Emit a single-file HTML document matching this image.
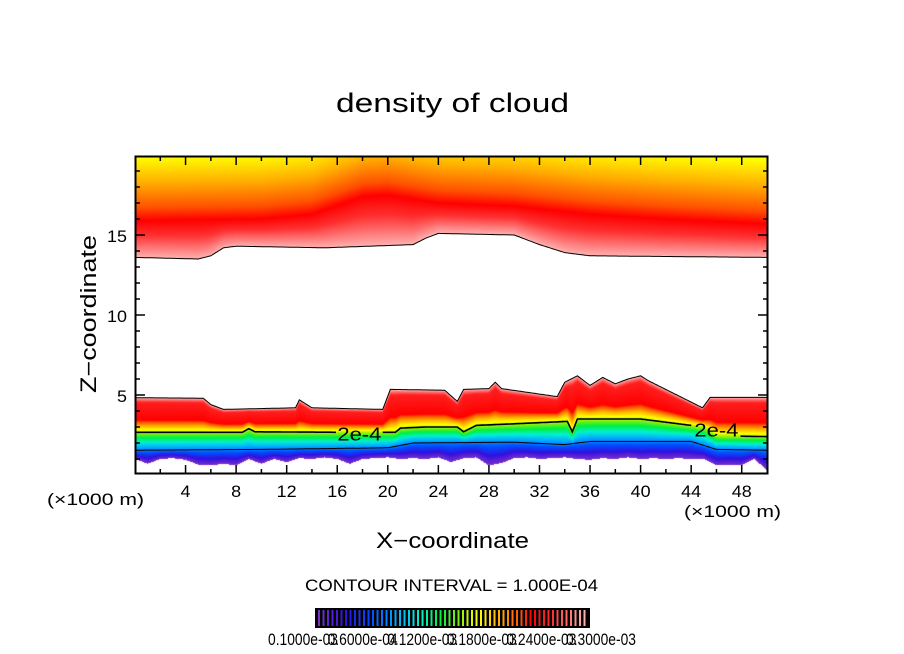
<!DOCTYPE html>
<html><head><meta charset="utf-8"><style>
html,body{margin:0;padding:0;background:#fff;}
#wrap{position:relative;width:904px;height:654px;overflow:hidden;font-family:"Liberation Sans",sans-serif;}
canvas{position:absolute;left:135px;top:156px;}
svg{position:absolute;left:0;top:0;}
</style></head><body>
<div id="wrap">
<canvas id="cv" width="632" height="317"></canvas>
<svg id="sv" width="904" height="654"></svg>
</div>
<script>
// ---- data (km / km-height) ----
const upperX = [0,5,6,7,8,15,22,23,24,30,32,34,36,50];
const upperBase = [13.6,13.5,13.7,14.2,14.3,14.2,14.4,14.8,15.1,15.0,14.4,13.9,13.7,13.6];
const redX = [0,10,14,18,20,24,30,36,42,50];
const redZ = [15.9,16.0,16.3,17.4,17.5,17.0,16.8,16.3,16.0,15.7];
const lowerX = [0,5.4,6,7,12.7,13,14,19.6,20.2,24.5,25.5,26,28,28.5,29,33.4,34,35,36,37,38,39,40,40.6,44.9,45.5,50];
const lowerTop = [4.83,4.8,4.4,4.1,4.2,4.7,4.2,4.1,5.35,5.3,4.6,5.35,5.4,5.8,5.4,4.9,5.8,6.2,5.6,6.1,5.7,6.0,6.2,5.9,4.2,4.85,4.85];
const c2X = [0,8.5,9,9.5,16,20.6,21,23,25.5,26,27,30,34.2,34.6,35,40,45,46,50];
const c2Z = [2.67,2.67,2.9,2.7,2.67,2.67,2.93,3.0,3.0,2.7,3.1,3.2,3.35,2.7,3.5,3.5,3.0,2.45,2.4];
const c1X = [0,10,20,22,30,34,36,44,46,50];
const c1Z = [1.55,1.6,1.7,2.0,2.05,1.9,2.1,2.1,1.6,1.55];
const baseZ = [1.0,0.7,1.0,1.05,0.95,0.65,0.6,0.7,0.6,1.0,0.7,1.0,0.8,1.05,1.0,1.1,1.0,0.7,1.0,1.05,1.1,1.0,1.05,1.0,1.1,0.8,1.05,1.1,0.6,0.75,1.05,1.1,1.0,1.05,1.1,1.0,0.95,1.05,1.0,1.1,1.0,1.05,1.0,1.05,1.0,1.0,0.6,0.65,0.6,1.0,0.3];
const xTicks = [4,8,12,16,20,24,28,32,36,40,44,48];
const yTicks = [5,10,15];
const cbLabels = ["0.1000e-03","0.6000e-04","0.1200e-03","0.1800e-03","0.2400e-03","0.3000e-03"];
const contourLabel = "2e-4";

// ---- axes ----
const X0=135, KX=12.64, Z0=475, KZ=16;
const xs = k => X0 + k*KX;
const zs = z => Z0 - z*KZ;
function interp(xa, ya, x){
  if(x<=xa[0]) return ya[0];
  for(let i=1;i<xa.length;i++){ if(x<=xa[i]){const f=(x-xa[i-1])/(xa[i]-xa[i-1]); return ya[i-1]+f*(ya[i]-ya[i-1]);} }
  return ya[ya.length-1];
}
const stops=[[0,[122,48,200]],[0.1,[48,16,224]],[0.2,[0,80,255]],[0.3,[0,176,255]],[0.38,[0,240,208]],[0.46,[0,240,64]],[0.55,[176,240,0]],[0.6,[255,255,0]],[0.68,[255,176,0]],[0.76,[255,80,0]],[0.8,[255,0,0]],[0.88,[255,48,48]],[1,[255,176,176]]];
function cmap(t){
  t=Math.max(0,Math.min(1,t));
  for(let i=1;i<stops.length;i++){ if(t<=stops[i][0]){const a=stops[i-1],b=stops[i];const f=(t-a[0])/(b[0]-a[0]);return a[1].map((v,j)=>Math.round(v+f*(b[1][j]-v)));} }
  return stops[stops.length-1][1];
}
// ---- field ----
const cv=document.getElementById('cv'),ctx=cv.getContext('2d');
const W=cv.width,H=cv.height,img=ctx.createImageData(W,H);
const baseX=baseZ.map((v,i)=>i);
for(let px=0;px<W;px++){
  const k=(px+0.5)/KX;
  const ub=interp(upperX,upperBase,k), ur=interp(redX,redZ,k);
  const lt=interp(lowerX,lowerTop,k), c2=interp(c2X,c2Z,k), c1=interp(c1X,c1Z,k), lb=interp(baseX,baseZ,k);
  for(let py=0;py<H;py++){
    const z=(Z0-(156+py+0.5))/KZ;
    let col=[255,255,255];
    if(z>=ub){
      let t = z<ur ? 1-0.2*(z-ub)/(ur-ub) : 0.8-0.05*(z-ur);
      col=cmap(t);
    } else if(z<=lt && z>=lb){
      let t;
      if(z<c1) t=0.25*(z-lb)/Math.max(0.05,c1-lb);
      else if(z<c2) t=0.25+0.3*(z-c1)/Math.max(0.05,c2-c1);
      else { const s=(z-c2)/Math.max(0.05,lt-c2);
        t = s<0.35 ? 0.55+0.25*s/0.35 : s<0.85 ? 0.8+0.05*(s-0.35)/0.5 : 0.85+0.15*(s-0.85)/0.15; }
      col=cmap(t);
    }
    const o=(py*W+px)*4; img.data[o]=col[0];img.data[o+1]=col[1];img.data[o+2]=col[2];img.data[o+3]=255;
  }
}
ctx.putImageData(img,0,0);

// ---- svg overlay ----
const NS='http://www.w3.org/2000/svg', sv=document.getElementById('sv');
function el(tag,attrs,txt){const e=document.createElementNS(NS,tag);for(const a in attrs)e.setAttribute(a,attrs[a]);if(txt!==undefined)e.textContent=txt;sv.appendChild(e);return e;}
function curve(xa,za,name,w,gaps){
  let segs=[[]];
  for(let k=0;k<=50.001;k+=0.1){
    const inGap=gaps.some(g=>k>g[0]&&k<g[1]);
    if(inGap){ if(segs[segs.length-1].length) segs.push([]); continue; }
    segs[segs.length-1].push(xs(k).toFixed(1)+','+zs(interp(xa,za,k)).toFixed(1));
  }
  segs.filter(s=>s.length>1).forEach(s=>{
    const p=el('polyline',{points:s.join(' '),fill:'none',stroke:'#000','stroke-width':w});
    
    
  });
}
curve(upperX,upperBase,'upper-cloud-boundary',1,[]);
curve(lowerX,lowerTop,'lower-cloud-top-contour',1,[]);
curve(c1X,c1Z,'contour-1e-4',1,[]);
curve(c2X,c2Z,'contour-2e-4',1.6,[[15.9,19.6],[44.1,47.9]]);
[[17.75,2.6],[46.0,2.85]].forEach(p=>{
  const t=el('text',{x:xs(p[0])-22,y:zs(p[1])+7,'font-size':18,textLength:44,lengthAdjust:'spacingAndGlyphs',fill:'#000'},contourLabel);
  
  
});
// frame
const fr=el('rect',{x:135.5,y:156.5,width:632,height:317,fill:'none',stroke:'#000','stroke-width':2});


// ticks
for(let k=2;k<50;k+=2){
  const L = (k%4===0)?8:4;
  el('line',{x1:xs(k),x2:xs(k),y1:473,y2:473-L,stroke:'#000','stroke-width':1.5});
  el('line',{x1:xs(k),x2:xs(k),y1:157,y2:157+L,stroke:'#000','stroke-width':1.5});
}
for(let z=1;z<20;z++){
  const L=(z%5===0)?9:4;
  el('line',{x1:136,x2:136+L,y1:zs(z),y2:zs(z),stroke:'#000','stroke-width':1.5});
  el('line',{x1:767,x2:767-L,y1:zs(z),y2:zs(z),stroke:'#000','stroke-width':1.5});
}
xTicks.forEach(v=>{
  const s=String(v);
  const w=s.length*10;
  const t=el('text',{x:xs(v)-w/2,y:497,'font-size':17,textLength:w,lengthAdjust:'spacingAndGlyphs'},s);
  
  
});
yTicks.forEach(v=>{
  const s=String(v);
  const w=s.length*10;
  const t=el('text',{x:127-w,y:zs(v)+7,'font-size':17,textLength:w,lengthAdjust:'spacingAndGlyphs'},s);
  
  
});
// colorbar
const cbr=el('rect',{x:315,y:608,width:275,height:20,fill:'#000'});


for(let i=0;i<60;i++){
  const c=cmap(i/59);
  el('rect',{x:318+i*4.5,y:610,width:2,height:16,fill:'rgb('+c.join(',')+')'});
}
cbLabels.forEach((s,i)=>{
  const t=el('text',{x:268+i*59.6,y:645,'font-size':17,textLength:70,lengthAdjust:'spacingAndGlyphs'},s);
  
  
});
</script>
<svg width="904" height="654" style="position:absolute;left:0;top:0;pointer-events:none" font-family="Liberation Sans, sans-serif">
<text x="336" y="112" font-size="27" textLength="233" lengthAdjust="spacingAndGlyphs">density of cloud</text>
<text transform="translate(96,393) rotate(-90)" font-size="22" textLength="158" lengthAdjust="spacingAndGlyphs">Z−coordinate</text>
<text x="376" y="548" font-size="22" textLength="153" lengthAdjust="spacingAndGlyphs">X−coordinate</text>
<text x="47" y="505" font-size="17" textLength="97" lengthAdjust="spacingAndGlyphs">(×1000 m)</text>
<text x="684" y="517" font-size="17" textLength="97" lengthAdjust="spacingAndGlyphs">(×1000 m)</text>
<text x="305" y="591" font-size="17" textLength="293" lengthAdjust="spacingAndGlyphs">CONTOUR INTERVAL = 1.000E-04</text>
</svg>
</body></html>
